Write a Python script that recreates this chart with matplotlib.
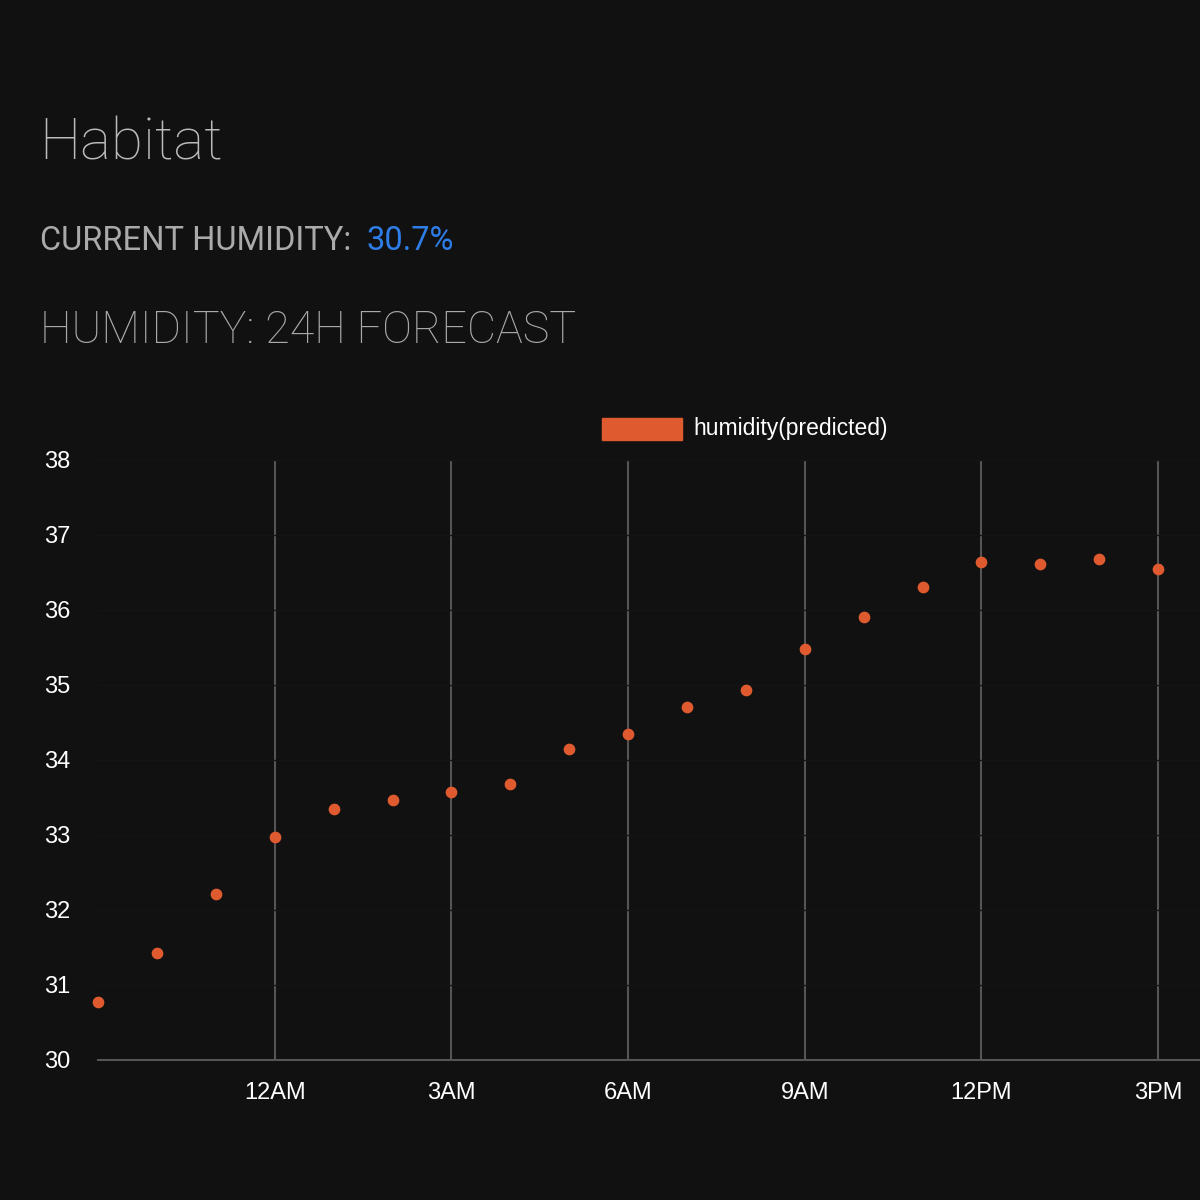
import matplotlib.pyplot as plt
from matplotlib.patches import Rectangle

hours = ["9PM", "10PM", "11PM", "12AM", "1AM", "2AM", "3AM", "4AM", "5AM", "6AM",
         "7AM", "8AM", "9AM", "10AM", "11AM", "12PM", "1PM", "2PM", "3PM"]
humidity = [30.77, 31.43, 32.21, 32.97, 33.35, 33.47, 33.57, 33.68, 34.15, 34.35,
            34.71, 34.93, 35.48, 35.91, 36.31, 36.64, 36.61, 36.68, 36.55]
tick_labels = ["12AM", "3AM", "6AM", "9AM", "12PM", "3PM"]

bg = "#111111"
orange = "#e05a30"

fig = plt.figure(figsize=(12, 12), dpi=100, facecolor=bg)
fig.text(0.033, 0.88, "Habitat", color="#bbbbbb", fontsize=42,
         family="Roboto", fontweight="light", va="center")
fig.text(0.033, 0.799, "CURRENT HUMIDITY:", color="#aaaaaa", fontsize=23.5,
         family="Roboto", va="center")
fig.text(0.305, 0.799, "30.7%", color="#2f7de8", fontsize=23.5,
         family="Roboto", va="center")
fig.text(0.033, 0.724, "HUMIDITY: 24H FORECAST", color="#aaaaaa", fontsize=32.3,
         family="Roboto", fontweight="light", va="center")

fig.patches.append(Rectangle((0.502, 0.6335), 0.066, 0.018, transform=fig.transFigure,
                             color=orange))
fig.text(0.578, 0.6425, "humidity(predicted)", color="white", fontsize=16.5,
         family="Liberation Sans", va="center")

ax = fig.add_axes([0.0817, 0.1167, 0.9183, 0.5])
ax.set_facecolor(bg)
x = list(range(len(hours)))
ax.scatter(x, humidity, s=55, color=orange, zorder=3, clip_on=False)
ax.set_xlim(0, 18.71)
ax.set_ylim(30, 38)
ticks = [hours.index(t) for t in tick_labels]
ax.set_xticks(ticks)
ax.set_xticklabels(tick_labels)
ax.set_yticks(range(30, 39))
ax.grid(axis="x", color="#555555", linewidth=1.5)
ax.grid(axis="y", color="#151515", linewidth=1)
for s in ["top", "right", "left"]:
    ax.spines[s].set_visible(False)
ax.spines["bottom"].set_color("#555555")
ax.spines["bottom"].set_linewidth(1.5)
ax.tick_params(length=0, colors="white", labelsize=17, pad=16)
ax.tick_params(axis="y", pad=20)
for lab in ax.get_xticklabels() + ax.get_yticklabels():
    lab.set_family("Liberation Sans")

fig.savefig("out.png", facecolor=bg)
